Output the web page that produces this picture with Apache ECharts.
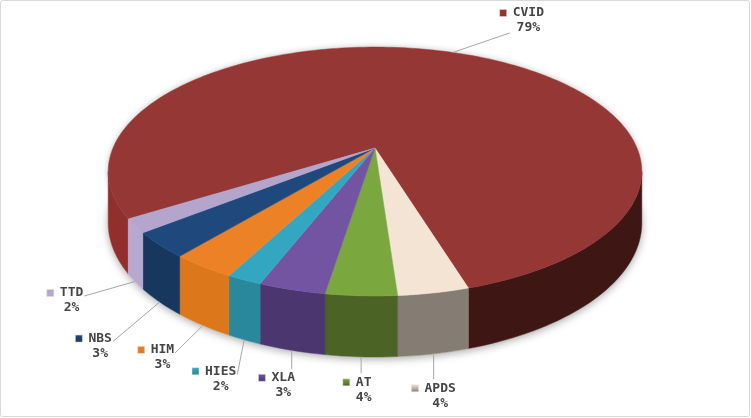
<!DOCTYPE html>
<html>
<head>
<meta charset="utf-8">
<script src="https://cdn.jsdelivr.net/npm/echarts@6/dist/echarts.min.js"></script>
<style>
  html, body { margin: 0; padding: 0; background: #fff; }
  #chart { width: 751px; height: 418px; }
</style>
</head>
<body>
<div id="chart"></div>
<script>
// slices, clockwise from the first one
const names = ['CVID', 'APDS', 'AT', 'XLA', 'HIES', 'HIM', 'NBS', 'TTD'];
const values = [79.2, 3.6, 3.6, 3.4, 1.8, 3.3, 3.3, 1.8];
const topColors = ['#953735', '#f3e4d3', '#7ba73f', '#7254a2', '#33a6c2', '#ec8126', '#1f497d', '#b4a5cc'];
// wall colour on the lit (left) side and the shaded (right) side
const sideColorsLeft = ['#922f2d', '#857d73', '#4b6426', '#4b3670', '#2a889d', '#dc771c', '#17375e', '#b7a8cf'];
const sideColorsRight = ['#3e1614', '#857d73', '#4b6426', '#4b3670', '#2a889d', '#dc771c', '#17375e', '#b7a8cf'];
// where each label block sits, relative to its slice's rim point (like dragged excel labels)
const labelShift = [[69, -32], [0, 42], [-4, 33], [-15, 35], [-30, 39], [-47, 32], [-66, 44], [-70, 19]];

// 3d pie look: center, radius, squash, thickness, perspective, first slice angle
const CX = 375, CY = 148, R = 262, RK = 120, H = 49.5, P = 0.189, START = 57.9;
const FONT = 'bold 13px "DejaVu Sans Mono"';
const CHAR_W = 7.83;

const total = values.reduce((a, b) => a + b, 0);
const angles = [];
let acc = START;
values.forEach((v) => {
  const a0 = acc;
  acc += (v / total) * 360;
  angles.push([a0, acc]);
});

// theta: degrees from the front, clockwise on screen; z: 0 top face, 1 bottom
function proj(theta, r, z) {
  const t = (theta * Math.PI) / 180;
  const X = -Math.sin(t) * r;
  const Y = Math.cos(t) * r;
  const w = 1 / (1 - P * Y);
  return [CX + R * X * w, CY + (RK * Y + H * z) * w];
}

function arc(a0, a1, z) {
  const n = Math.max(2, Math.ceil(Math.abs(a1 - a0) / 1.5));
  const pts = [];
  for (let k = 0; k <= n; k++) pts.push(proj(a0 + ((a1 - a0) * k) / n, 1, z));
  return pts;
}

const VIS = (Math.acos(P) * 180) / Math.PI;
function visibleParts(a0, a1) {
  const parts = [];
  [-360, 0, 360].forEach((k) => {
    const lo = Math.max(a0 + k, -VIS);
    const hi = Math.min(a1 + k, VIS);
    if (hi > lo) parts.push([lo, hi]);
  });
  return parts;
}

function norm(a) {
  let m = a % 360;
  if (m > 180) m -= 360;
  if (m <= -180) m += 360;
  return m;
}

function shadowItem() {
  return {
    type: 'group',
    children: [
      { type: 'polygon', shape: { points: arc(0, 360, 1) }, style: { fill: '#fff', shadowBlur: 8, shadowColor: 'rgba(0,0,0,0.35)', shadowOffsetY: 2 } },
      { type: 'polygon', shape: { points: arc(0, 360, 0) }, style: { fill: '#fff', shadowBlur: 6, shadowColor: 'rgba(0,0,0,0.25)' } },
    ],
  };
}

function wallItem(params) {
  const i = params.dataIndex;
  const [a0, a1] = angles[i];
  const children = visibleParts(a0, a1).map(([lo, hi]) => {
    const c = lo >= 0 ? sideColorsLeft[i] : sideColorsRight[i];
    return {
      type: 'polygon',
      shape: { points: arc(lo, hi, 0).concat(arc(hi, lo, 1)) },
      style: { fill: c, stroke: c, lineWidth: 0.5 },
    };
  });
  return { type: 'group', children };
}

function topItem(params) {
  const i = params.dataIndex;
  const [a0, a1] = angles[i];
  return {
    type: 'polygon',
    shape: { points: [[CX, CY]].concat(arc(a0, a1, 0)) },
    style: { fill: topColors[i], stroke: topColors[i], lineWidth: 0.5 },
  };
}

function labelItem(params) {
  const i = params.dataIndex;
  const [a0, a1] = angles[i];
  const mid = norm((a0 + a1) / 2);
  const anchor = Math.abs(mid) < VIS ? proj(mid, 1, 1) : proj(mid, 1, 0);
  const nameW = names[i].length * CHAR_W;
  const blockW = 13 + nameW;
  const bx = anchor[0] + labelShift[i][0] - blockW / 2;
  const by = anchor[1] + labelShift[i][1] - 7.5; // middle of the name line
  let end;
  if (anchor[0] > bx && anchor[0] < bx + blockW) {
    // straight above or below the block
    end = [anchor[0], anchor[1] < by ? by - 9 : by + 22];
  } else {
    end = [anchor[0] < bx ? bx + 10 : bx + blockW + 1, Math.min(Math.max(anchor[1], by + 3), by + 20)];
  }
  const pct = Math.round((values[i] / total) * 100) + '%';
  const key = new echarts.graphic.LinearGradient(0, 0, 0, 1, [
    { offset: 0, color: topColors[i] },
    { offset: 1, color: sideColorsLeft[i] },
  ]);
  return {
    type: 'group',
    children: [
      { type: 'polyline', shape: { points: [anchor, end] }, style: { stroke: '#a6a6a6', lineWidth: 1, fill: null } },
      { type: 'rect', shape: { x: bx, y: by - 3.5, width: 7, height: 7 }, style: { fill: key, stroke: '#e0e0e0', lineWidth: 0.5 } },
      { type: 'text', style: { text: names[i], x: bx + 13, y: by, font: FONT, fill: '#454545', align: 'left', verticalAlign: 'middle' } },
      { type: 'text', style: { text: pct, x: bx + 13 + nameW / 2, y: by + 15, font: FONT, fill: '#454545', align: 'center', verticalAlign: 'middle' } },
    ],
  };
}

const chart = echarts.init(document.getElementById('chart'));
const sliceData = values.map((v, i) => [i, v]);
chart.setOption({
  animation: false,
  graphic: [{
    type: 'rect',
    silent: true,
    shape: { x: 0.5, y: 0.5, width: 749, height: 416, r: 2 },
    style: { fill: null, stroke: '#d9d9d9', lineWidth: 1 },
  }],
  series: [
    { type: 'custom', coordinateSystem: 'none', silent: true, z: 2, data: [[0]], renderItem: shadowItem },
    { type: 'custom', coordinateSystem: 'none', z: 3, data: sliceData, renderItem: wallItem },
    { type: 'custom', coordinateSystem: 'none', z: 4, data: sliceData, renderItem: topItem },
    { type: 'custom', coordinateSystem: 'none', silent: true, z: 5, data: sliceData, renderItem: labelItem },
  ],
});
</script>
</body>
</html>
